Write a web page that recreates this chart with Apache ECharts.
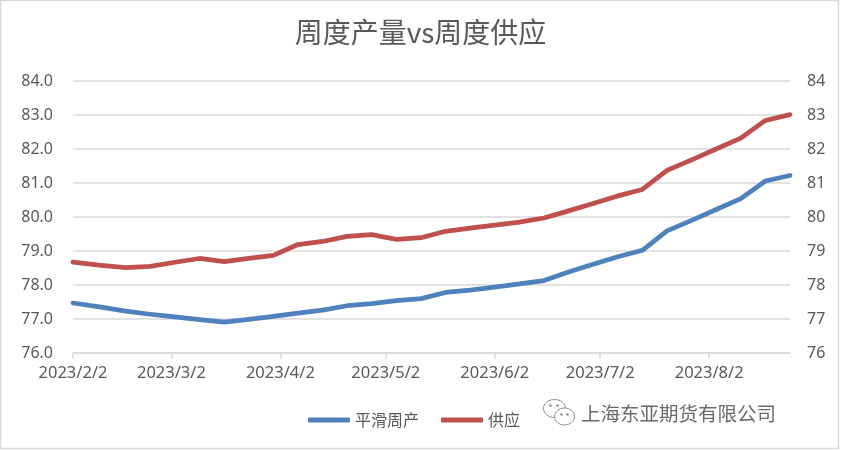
<!DOCTYPE html>
<html>
<head>
<meta charset="utf-8">
<script src="https://cdn.jsdelivr.net/npm/echarts@6/dist/echarts.min.js"></script>
<style>
  html, body { margin: 0; padding: 0; background: #fff; }
  #chart { width: 841px; height: 450px; }
</style>
</head>
<body>
<div id="chart"></div>
<script>
// 周度数据（日期 / 平滑周产 / 供应）
const dates = [
  "2023-02-02", "2023-02-10", "2023-02-17", "2023-02-24", "2023-03-03",
  "2023-03-10", "2023-03-17", "2023-03-24", "2023-03-31", "2023-04-07",
  "2023-04-14", "2023-04-21", "2023-04-28", "2023-05-05", "2023-05-12",
  "2023-05-19", "2023-05-26", "2023-06-02", "2023-06-09", "2023-06-16",
  "2023-06-23", "2023-06-30", "2023-07-07", "2023-07-14", "2023-07-21",
  "2023-07-28", "2023-08-04", "2023-08-11", "2023-08-18", "2023-08-25",
];
const prodSmooth = [
  77.47, 77.35, 77.23, 77.14, 77.06, 76.98, 76.91, 76.99, 77.08, 77.17,
  77.26, 77.39, 77.45, 77.54, 77.6, 77.78, 77.85, 77.94, 78.03, 78.13,
  78.38, 78.61, 78.83, 79.02, 79.59, 79.9, 80.22, 80.54, 81.06, 81.22,
];
const supply = [
  78.67, 78.58, 78.51, 78.55, 78.67, 78.78, 78.69, 78.78, 78.87, 79.19,
  79.28, 79.43, 79.48, 79.34, 79.39, 79.58, 79.67, 79.76, 79.85, 79.97,
  80.18, 80.4, 80.62, 80.81, 81.37, 81.68, 82.0, 82.32, 82.84, 83.01,
];
// 横轴刻度（每月2日）
const tickDates = [
  "2023-02-02", "2023-03-02", "2023-04-02", "2023-05-02",
  "2023-06-02", "2023-07-02", "2023-08-02",
];
const tickLabels = [
  "2023/2/2", "2023/3/2", "2023/4/2", "2023/5/2",
  "2023/6/2", "2023/7/2", "2023/8/2",
];

// 日期转成距离首日的天数，横轴用数值轴
const day0 = Date.UTC(2023, 1, 2);
function toDay(s) {
  const [y, m, d] = s.split("-").map(Number);
  return Math.round((Date.UTC(y, m - 1, d) - day0) / 86400000);
}

const tickValues = tickDates.map(toDay);
const grey = "#595959";
const gridColor = "#d9d9d9";

const myChart = echarts.init(document.getElementById("chart"));

myChart.setOption({
  animation: false,
  title: {
    text: "周度产量vs周度供应",
    left: "center",
    top: 18,
    padding: 0,
    textStyle: {
      fontFamily: "Noto Sans CJK SC",
      fontSize: 28,
      fontWeight: "normal",
      color: grey,
    },
  },
  legend: {
    left: 303,
    top: 407,
    icon: "roundRect",
    itemWidth: 42,
    itemHeight: 5,
    itemGap: 22,
    textStyle: { fontFamily: "Noto Sans CJK SC", fontSize: 16, color: grey },
    data: ["平滑周产", "供应"],
  },
  grid: { left: 73, right: 51, top: 81, bottom: 97, containLabel: false },
  xAxis: {
    type: "value",
    min: toDay(dates[0]),
    max: toDay(dates[dates.length - 1]),
    axisLine: { lineStyle: { color: gridColor, width: 1.5 } },
    axisTick: {
      show: true,
      length: 6,
      customValues: tickValues,
      lineStyle: { color: gridColor, width: 1.5 },
    },
    axisLabel: {
      customValues: tickValues,
      margin: 12,
      fontFamily: "Noto Sans",
      fontSize: 16.5,
      color: grey,
      formatter: (v) => {
        const i = tickValues.indexOf(v);
        return i >= 0 ? tickLabels[i] : "";
      },
    },
    splitLine: { show: false },
  },
  yAxis: [
    {
      type: "value",
      min: 76,
      max: 84,
      interval: 1,
      axisLine: { show: false },
      axisTick: { show: false },
      axisLabel: {
        margin: 20,
        fontFamily: "Noto Sans",
        fontSize: 16,
        color: grey,
        formatter: (v) => v.toFixed(1),
      },
      splitLine: { lineStyle: { color: gridColor, width: 1.5 } },
    },
    {
      type: "value",
      min: 76,
      max: 84,
      interval: 1,
      axisLine: { show: false },
      axisTick: { show: false },
      axisLabel: {
        margin: 17,
        fontFamily: "Noto Sans",
        fontSize: 16,
        color: grey,
      },
      splitLine: { show: false },
    },
  ],
  series: [
    {
      name: "平滑周产",
      type: "line",
      yAxisIndex: 0,
      showSymbol: false,
      itemStyle: { color: "#4F81BD" },
      lineStyle: { color: "#4F81BD", width: 4.75, cap: "round", join: "round" },
      data: dates.map((d, i) => [toDay(d), prodSmooth[i]]),
    },
    {
      name: "供应",
      type: "line",
      yAxisIndex: 1,
      showSymbol: false,
      itemStyle: { color: "#C0504D" },
      lineStyle: { color: "#C0504D", width: 4.75, cap: "round", join: "round" },
      data: dates.map((d, i) => [toDay(d), supply[i]]),
    },
  ],
  graphic: [
    {
      // 外框
      type: "rect",
      silent: true,
      shape: { x: 0.5, y: 0.5, width: 838, height: 448 },
      style: { fill: "none", stroke: gridColor, lineWidth: 1.5 },
    },
    {
      // 微信图标（水印）
      type: "group",
      left: 543,
      top: 399,
      silent: true,
      children: [
        { type: "ellipse", shape: { cx: 11, cy: 10, rx: 11, ry: 9 },
          style: { fill: "#fff", stroke: "#8a8a8a", lineWidth: 1 } },
        { type: "ellipse", shape: { cx: 21, cy: 18, rx: 10, ry: 8.5 },
          style: { fill: "#fff", stroke: "#8a8a8a", lineWidth: 1 } },
        { type: "circle", shape: { cx: 7, cy: 7, r: 1.3 }, style: { fill: "#8a8a8a" } },
        { type: "circle", shape: { cx: 14, cy: 7, r: 1.3 }, style: { fill: "#8a8a8a" } },
        { type: "circle", shape: { cx: 18, cy: 16, r: 1.2 }, style: { fill: "#8a8a8a" } },
        { type: "circle", shape: { cx: 24, cy: 16, r: 1.2 }, style: { fill: "#8a8a8a" } },
      ],
    },
    {
      type: "text",
      left: 581,
      top: 404,
      silent: true,
      style: {
        text: "上海东亚期货有限公司",
        fontFamily: "Noto Sans CJK SC",
        fontSize: 19.5,
        fill: "#6a6a6a",
      },
    },
  ],
});
</script>
</body>
</html>
